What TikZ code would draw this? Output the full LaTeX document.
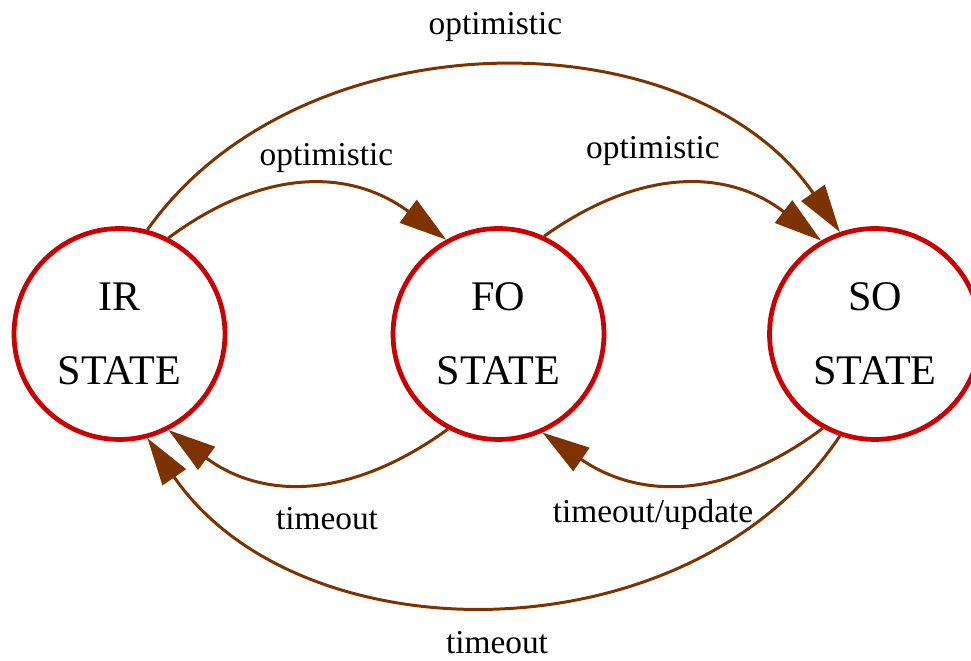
\documentclass[tikz,border=0pt]{standalone}
\usepackage{fontspec}
\setmainfont{Liberation Serif}
\usetikzlibrary{arrows.meta}
\definecolor{statered}{RGB}{204,0,0}
\definecolor{edgebrown}{RGB}{125,50,0}

\begin{document}
\begin{tikzpicture}[x=0.02cm,y=-0.02cm,
  state/.style={draw=statered,line width=2.7pt,circle,minimum size=4.22cm,inner sep=0pt,align=center,font=\fontsize{24}{42}\selectfont},
  trans/.style={draw=edgebrown,line width=1.7pt,-{Triangle[length=0.95cm,width=0.56cm]}},
  lbl/.style={inner sep=0pt,font=\fontsize{19}{22}\selectfont}]
\useasboundingbox (0,0) rectangle (971,661);
\node[state] (ir) at (119.5,334) {IR\\STATE};
\node[state] (fo) at (498.5,334) {FO\\STATE};
\node[state] (so) at (875,334) {SO\\STATE};
\draw[trans] (ir.75.5) .. controls (300,14) and (690,14) .. (so.109);
\node[lbl] (lopt1) at (495.5,27) {optimistic};
\draw[trans] (ir.63) .. controls (263,168) and (350,168) .. (fo.119);
\node[lbl] (lopt2) at (326.5,158) {optimistic};
\draw[trans] (fo.65) .. controls (640,168) and (727,168) .. (so.120);
\node[lbl] (lopt3) at (653,151) {optimistic};
\draw[trans] (fo.-118) .. controls (350,500) and (263,500) .. (ir.-63);
\node[lbl] (ltime1) at (327,519) {timeout};
\draw[trans] (so.-119) .. controls (727,500) and (640,500) .. (fo.-66);
\node[lbl] (ltime2) at (653,514) {timeout/update};
\draw[trans] (so.-109) .. controls (690,660) and (300,660) .. (ir.-75);
\node[lbl] (ltime3) at (497,643) {timeout};
\end{tikzpicture}
\end{document}
